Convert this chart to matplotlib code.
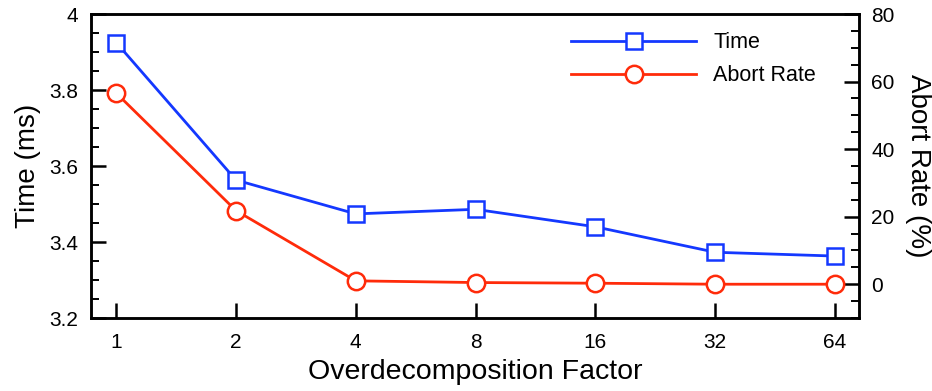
import matplotlib
matplotlib.use("Agg")
import matplotlib.pyplot as plt
from matplotlib.ticker import MultipleLocator, NullLocator

plt.rcParams['font.family'] = ['Liberation Sans', 'DejaVu Sans']

factors = ["1", "2", "4", "8", "16", "32", "64"]
time_ms = [3.925, 3.563, 3.474, 3.486, 3.440, 3.373, 3.363]
abort_rate = [56.6, 21.8, 1.0, 0.5, 0.3, 0.0, 0.0]

blue = '#1438FF'
red = '#FF2B0A'

fig = plt.figure(figsize=(9.32, 3.91), dpi=100)
ax = fig.add_axes([91/932, 1-318/391, (859-91)/932, (318-14)/391])
ax2 = ax.twinx()

x = list(range(len(factors)))
l1, = ax.plot(x, time_ms, color=blue, lw=2.0, marker='s', ms=11.5,
              mfc='white', mec=blue, mew=1.8, label='Time', zorder=3)
l2, = ax2.plot(x, abort_rate, color=red, lw=2.0, marker='o', ms=12.5,
               mfc='white', mec=red, mew=1.8, label='Abort Rate', zorder=3)

ax.set_xlim(-0.21, 6.2)
ax.set_ylim(3.2, 4.0)
ax2.set_ylim(-10, 80)
ax.set_xticks(x)
ax.set_xticklabels(factors)
ax.yaxis.set_major_locator(MultipleLocator(0.2))
ax.yaxis.set_minor_locator(MultipleLocator(0.05))
ax.set_yticklabels([f"{v:g}" for v in ax.get_yticks()])
ax2.yaxis.set_major_locator(MultipleLocator(20))
ax2.yaxis.set_minor_locator(MultipleLocator(5))
ax.xaxis.set_minor_locator(NullLocator())

for a in (ax, ax2):
    for s in a.spines.values():
        s.set_linewidth(1.8)

ax.tick_params(axis='both', which='major', direction='in', length=11, width=1.8,
               labelsize=15, top=False, right=False)
ax.tick_params(axis='x', pad=11)
ax.tick_params(axis='y', pad=9)
ax.tick_params(axis='y', which='minor', direction='in', length=6, width=1.4,
               left=True, right=False)
ax2.tick_params(axis='y', which='major', direction='in', length=11, width=1.8,
                labelsize=15, pad=9)
ax2.tick_params(axis='y', which='minor', direction='in', length=6, width=1.4)

ax.set_xlabel('Overdecomposition Factor', fontsize=20.5, labelpad=5)
ax.set_ylabel('Time (ms)', fontsize=20, labelpad=6)
ax2.set_ylabel('Abort Rate (%)', fontsize=20, rotation=270, labelpad=26)

fig.legend([l1, l2], ['Time', 'Abort Rate'], loc='upper left',
           bbox_to_anchor=(552/932, 1-13/391), frameon=False, fontsize=15.5,
           handlelength=5.8, handletextpad=0.8, labelspacing=0.55)

fig.savefig('out.png', dpi=100)
